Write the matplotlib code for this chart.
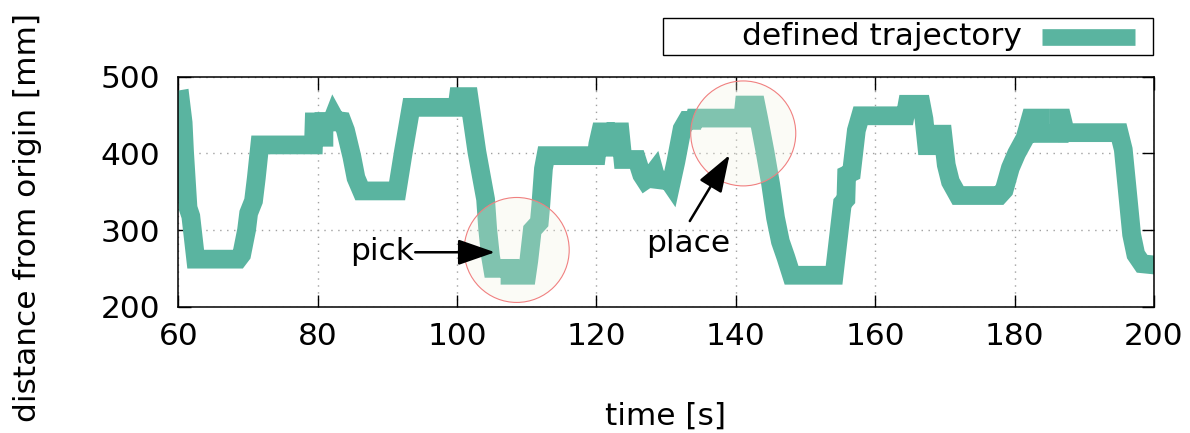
import matplotlib
matplotlib.use("Agg")
import matplotlib.pyplot as plt
import matplotlib.patches as patches
from matplotlib.lines import Line2D

# trajectory: time [s] / distance from origin [mm]
time_s = [59.0, 60.3, 60.7, 60.9, 61.4, 61.8, 62.1, 62.5, 68.6, 69.1, 69.8, 70.1,
          70.8, 71.2, 71.7, 79.4, 79.5, 80.3, 80.3, 80.9, 80.9, 82.0, 82.3, 82.6,
          83.5, 84.0, 84.9, 85.5, 86.3, 91.4, 92.3, 93.4, 100.0, 100.2, 101.7, 102.85,
          104.1, 104.4, 104.8, 105.1, 107.6, 107.6, 110.0, 110.3,
          110.8, 111.8, 112.0, 112.4, 112.75, 120.0, 120.2, 120.6, 121.3, 121.3, 122.8, 122.8,
          123.4, 123.8, 125.8, 126.5, 127.0, 127.8, 128.3, 128.6, 130.4, 130.7, 131.4, 132.3,
          133.0, 134.0, 134.1, 141.0, 141.2, 142.9, 143.3, 144.2, 145.0, 145.7, 146.4, 147.2,
          148.0, 154.1, 154.8, 155.3, 155.8, 155.9, 156.6, 157.3, 157.9, 164.3, 164.6, 166.6,
          167.0, 167.4, 168.8, 169.0, 169.7, 170.2, 170.8, 171.9, 177.8, 178.5, 179.4, 180.3,
          181.5, 182.3, 183.7, 183.7, 186.4, 186.4, 186.8, 187.3, 195.0, 195.6, 196.1, 196.8,
          197.4, 198.3, 200.5]
dist_mm = [468, 470, 440, 402, 329, 318, 294, 262, 262, 268, 300, 322,
           338, 368, 411, 411, 441, 441, 421, 421, 441, 441, 448, 443,
           442, 430, 396, 368, 351, 351, 402, 460, 460, 474, 474, 402,
           340, 301, 266, 250, 250, 241, 241, 260,
           300, 310, 330, 380, 397, 397, 412, 428, 428, 408, 408, 428,
           428, 392, 392, 372, 365, 370, 376, 366, 364, 360, 389, 432,
           443, 443, 446, 446, 463, 463, 445, 402, 360, 316, 285, 264,
           241, 241, 296, 335, 340, 372, 375, 430, 449, 449, 464, 464,
           445, 410, 410, 425, 425, 385, 363, 345, 345, 352, 381, 400,
           420, 446, 446, 426, 426, 446, 446, 427, 427, 405, 359, 294,
           268, 256, 254]

# highlighted pick / place moments
mark_t = [108.56, 141.07]
mark_d = [274, 426]

LINE_COLOR = "#5ab4a0"
FS = 22.5

fig = plt.figure(figsize=(11.9, 4.33), dpi=100)
ax = fig.add_axes([0.1498, 0.2917, 0.8199, 0.5312])

ax.plot(time_s, dist_mm, color=LINE_COLOR, lw=13.5, solid_joinstyle="miter",
        solid_capstyle="butt", zorder=2)

ax.set_xlim(60, 200)
ax.set_ylim(200, 500)
ax.set_xticks(range(60, 201, 20))
ax.set_yticks(range(200, 501, 100))
ax.grid(True, color="#a0a0a0", lw=1.0, linestyle=(0, (1, 4)))
ax.tick_params(direction="in", length=9, width=1, top=True, right=True, labelsize=FS)
ax.tick_params(axis="x", pad=11)
ax.tick_params(axis="y", pad=13)
for spine in ax.spines.values():
    spine.set_linewidth(1.1)

for ct, cd in zip(mark_t, mark_d):
    ax.add_patch(patches.Ellipse((ct, cd), 15.07, 136.9, facecolor="#f3f3df", alpha=0.25,
                                 edgecolor="none", zorder=3))
    ax.add_patch(patches.Ellipse((ct, cd), 15.07, 136.9, facecolor="none",
                                 edgecolor="#f08080", lw=0.8, zorder=3))

arrow = dict(arrowstyle="-|>,head_length=2.3,head_width=0.8", color="black", lw=1.8,
             mutation_scale=10, shrinkA=0, shrinkB=0)
ax.text(89.2, 261.5, "pick", ha="center", va="baseline", fontsize=FS, zorder=5)
ax.annotate("", xy=(105.44, 271), xytext=(94.0, 271), arrowprops=arrow, zorder=5)
ax.text(133.15, 271.3, "place", ha="center", va="baseline", fontsize=FS, zorder=5)
ax.annotate("", xy=(139.1, 397.8), xytext=(133.4, 311.7), arrowprops=arrow, zorder=5)

fig.text(28 / 1190, 1 - 218 / 433, "distance from origin [mm]", rotation=90,
         ha="center", va="center", fontsize=FS)
fig.text(665.5 / 1190, 1 - 416 / 433, "time [s]", ha="center", va="center", fontsize=FS)

# legend box above the plot, key on the right
fig.add_artist(patches.Rectangle((663.3 / 1190, 1 - 55 / 433), (1153 - 663.3) / 1190,
                                 (55 - 18.3) / 433, transform=fig.transFigure,
                                 fill=False, ec="black", lw=1.0))
fig.text(1022 / 1190, 1 - 36.5 / 433, "defined trajectory", ha="right", va="center",
         fontsize=FS)
fig.add_artist(Line2D([1041.7 / 1190, 1135 / 1190], [1 - 37.3 / 433] * 2,
                      transform=fig.transFigure, color=LINE_COLOR, lw=12,
                      solid_capstyle="butt"))

fig.savefig("out.png", dpi=100)
